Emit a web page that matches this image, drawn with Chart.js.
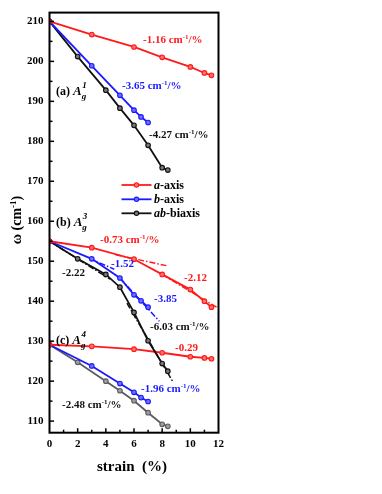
<!DOCTYPE html>
<html><head><meta charset="utf-8">
<script src="https://cdn.jsdelivr.net/npm/chart.js@4.4.0/dist/chart.umd.min.js"></script>
<style>html,body{margin:0;padding:0;background:#fff;}#wrap{width:382px;height:494px;position:relative;}</style>
</head><body><div id="wrap"><canvas id="c"></canvas></div>
<script>
// ---- data ----
const strainA = [0, 3, 6, 8, 10, 11, 11.5];        // a-axis strain points
const strainB = [0, 3, 5, 6, 6.5, 7];              // b-axis strain points
const strainAB = [0, 2, 4, 5, 6, 7, 8, 8.4];       // ab-biaxis strain points

const ag1A  = [210, 206.7, 203.6, 201.0, 198.6, 197.1, 196.5];
const ag1B  = [210, 198.9, 191.5, 187.8, 186.1, 184.7];
const ag1AB = [210, 201.2, 192.8, 188.3, 184.0, 179.0, 173.4, 172.8];

const ag3A  = [155, 153.4, 150.5, 146.7, 142.9, 140.0, 138.5];
const ag3B  = [155, 150.6, 145.8, 141.6, 140.1, 138.5];
const ag3AB = [155, 150.6, 146.7, 143.5, 137.2, 130.1, 124.4, 122.5];

const ag4A  = [129.1, 128.7, 128.0, 127.1, 126.1, 125.8, 125.6];
const ag4B  = [129.1, 123.8, 119.4, 117.2, 115.9, 114.9];
const ag4AB = [129.1, 124.7, 120.0, 117.6, 115.1, 112.1, 109.2, 108.7];

// linear-fit guide segments (dash-dot) : x pair and y pair
const fitX073 = [4.7, 8.3],  fitY073 = [151.6, 148.9];
const fitX212 = [8, 12],     fitY212 = [146.7, 138.2];
const fitX152 = [2.8, 4.6],  fitY152 = [150.7, 148.0];
const fitX385 = [5, 7.8],    fitY385 = [145.8, 135.0];
const fitX603 = [5.5, 8.8],  fitY603 = [139.5, 119.6];
const fitX222 = [0, 4.3],    fitY222 = [155, 145.5];

const xTicks = [0, 2, 4, 6, 8, 10, 12];
const yTicks = [110, 120, 130, 140, 150, 160, 170, 180, 190, 200, 210];

const seriesNames = ['a-axis', 'b-axis', 'ab-biaxis'];

// ---- helpers ----
const RED = '#ff1a1a', BLUE = '#1a1aff', BLACK = '#111111', GRAY = '#5c5c5c';
const SERIF = '"Liberation Serif","DejaVu Serif",serif';
const zip = (xs, ys) => xs.map((x, i) => ({x, y: ys[i]}));
function light(c){ return c === RED ? '#ff7070' : c === BLUE ? '#7070ff' : c === GRAY ? '#a0a0a0' : '#777777'; }
function series(label, xs, ys, color, hideLegend){
  return {label, data: zip(xs, ys), borderColor: color, backgroundColor: light(color),
    pointBackgroundColor: light(color), pointBorderColor: color, pointRadius: 2.3, pointBorderWidth: 1.1,
    borderWidth: 1.8, showLine: true, tension: 0, hideLegend: !!hideLegend};
}
function fit(xs, ys, color){
  return {label: 'fit', data: zip(xs, ys), borderColor: color, borderWidth: 1.5, borderDash: [6, 2, 1.5, 2],
    pointRadius: 0, showLine: true, hideLegend: true};
}

const datasets = [
  series(seriesNames[0], strainA, ag1A, RED),
  series(seriesNames[1], strainB, ag1B, BLUE),
  series(seriesNames[2], strainAB, ag1AB, BLACK),
  series('a3', strainA, ag3A, RED, true),
  series('b3', strainB, ag3B, BLUE, true),
  series('ab3', strainAB, ag3AB, BLACK, true),
  series('a4', strainA, ag4A, RED, true),
  series('b4', strainB, ag4B, BLUE, true),
  series('ab4', strainAB, ag4AB, GRAY, true),
  fit(fitX073, fitY073, RED),
  fit(fitX212, fitY212, RED),
  fit(fitX152, fitY152, BLUE),
  fit(fitX385, fitY385, BLUE),
  fit(fitX603, fitY603, BLACK),
  fit(fitX222, fitY222, BLACK)
];

function rich(ctx, x, y, parts, color, align){
  let w = 0;
  parts.forEach(p => { ctx.font = p.f; w += ctx.measureText(p.t).width; });
  let cx = align === 'center' ? x - w / 2 : x;
  ctx.fillStyle = color; ctx.textBaseline = 'alphabetic'; ctx.textAlign = 'left';
  parts.forEach(p => { ctx.font = p.f; ctx.fillText(p.t, cx, y + (p.dy || 0)); cx += ctx.measureText(p.t).width; });
}
const B11 = 'bold 11px ' + SERIF, B7 = 'bold 7px ' + SERIF;
function slope(txt, unit){
  return unit ? [{t: txt + ' cm', f: B11}, {t: '-1', f: B7, dy: -4}, {t: '/%', f: B11}] : [{t: txt, f: B11}];
}

const decor = {
  id: 'decor',
  afterDatasetsDraw(chart){
    const ctx = chart.ctx, xs = chart.scales.x, ys = chart.scales.y, a = chart.chartArea;
    ctx.save();
    // frame
    ctx.strokeStyle = '#000'; ctx.lineWidth = 2;
    ctx.strokeRect(a.left, a.top, a.right - a.left, a.bottom - a.top);
    // inward ticks
    ctx.lineWidth = 1.5;
    for (let v = 1; v < 12; v++){
      const px = xs.getPixelForValue(v);
      ctx.beginPath(); ctx.moveTo(px, a.bottom); ctx.lineTo(px, a.bottom - (v % 2 ? 3 : 4.5)); ctx.stroke();
    }
    for (let v = 110; v <= 210; v += 5){
      const py = ys.getPixelForValue(v);
      ctx.beginPath(); ctx.moveTo(a.left, py); ctx.lineTo(a.left + (v % 10 ? 3 : 4.5), py); ctx.stroke();
    }
    // slope annotations
    const ann = [
      ['-1.16', true, RED, 143, 43], ['-3.65', true, BLUE, 122, 89], ['-4.27', true, BLACK, 149, 138],
      ['-0.73', true, RED, 100, 243], ['-2.12', false, RED, 184, 281], ['-1.52', false, BLUE, 111, 267],
      ['-2.22', false, BLACK, 62, 276], ['-3.85', false, BLUE, 154, 302], ['-6.03', true, BLACK, 150, 330],
      ['-0.29', false, RED, 175, 351], ['-1.96', true, BLUE, 141, 392], ['-2.48', true, BLACK, 62, 408]
    ];
    ann.forEach(([t, u, c, x, y]) => rich(ctx, x, y, slope(t, u), c));
    // panel labels
    const P = 'bold 12px ' + SERIF, AI = 'italic bold 13px ' + SERIF, SI = 'italic bold 9px ' + SERIF;
    [['(a) ', '1', 95], ['(b) ', '3', 226], ['(c) ', '4', 344]].forEach(([l, s, y]) => {
      ctx.fillStyle = '#000'; ctx.font = P; ctx.textAlign = 'left'; ctx.fillText(l, 56, y);
      let x = 56 + ctx.measureText(l).width;
      ctx.font = AI; ctx.fillText('A', x, y); x += ctx.measureText('A').width;
      ctx.font = SI; ctx.fillText('g', x, y + 4); ctx.fillText(s, x + 0.5, y - 7);
    });
    // legend
    const LI = 'italic bold 12px ' + SERIF, LB = 'bold 12px ' + SERIF;
    const leg = [[RED, 'a', '-axis', 185], [BLUE, 'b', '-axis', 199.3], [BLACK, 'ab', '-biaxis', 213.3]];
    leg.forEach(([c, it, rest, y]) => {
      ctx.strokeStyle = c; ctx.lineWidth = 1.8; ctx.setLineDash([]);
      ctx.beginPath(); ctx.moveTo(121.5, y); ctx.lineTo(151.5, y); ctx.stroke();
      ctx.beginPath(); ctx.arc(136.5, y, 2.2, 0, Math.PI * 2); ctx.fillStyle = light(c); ctx.fill();
      ctx.lineWidth = 1.1; ctx.stroke();
      rich(ctx, 154, y + 4, [{t: it, f: LI}, {t: rest, f: LB}], '#000');
    });
    // axis titles
    rich(ctx, 132, 471, [{t: 'strain  (%)', f: 'bold 15px ' + SERIF}], '#000', 'center');
    ctx.save(); ctx.translate(21, 220); ctx.rotate(-Math.PI / 2);
    rich(ctx, 0, 0, [{t: 'ω (cm', f: 'bold 14px ' + SERIF}, {t: '-1', f: 'bold 9px ' + SERIF, dy: -5}, {t: ')', f: 'bold 14px ' + SERIF}], '#000', 'center');
    ctx.restore();
    ctx.restore();
  }
};

new Chart(document.getElementById('c'), {
  type: 'scatter',
  data: {datasets},
  options: {
    responsive: true, maintainAspectRatio: false, animation: false, devicePixelRatio: 1,
    layout: {padding: {left: 0, top: 7, right: 163.5, bottom: 0}},
    plugins: {legend: {display: false}, tooltip: {enabled: false}},
    scales: {
      x: {type: 'linear', min: 0, max: 12,
        afterBuildTicks: s => { s.ticks = xTicks.map(v => ({value: v})); },
        afterFit: s => { s.height = 61.3; },
        ticks: {color: '#000', font: {family: SERIF, weight: 'bold', size: 11}, padding: 5},
        grid: {display: false, drawTicks: false}, border: {display: false}},
      y: {type: 'linear', min: 107.1, max: 212.2,
        afterBuildTicks: s => { s.ticks = yTicks.map(v => ({value: v})); },
        afterFit: s => { s.width = 49.5; },
        ticks: {color: '#000', font: {family: SERIF, weight: 'bold', size: 11}, padding: 6},
        grid: {display: false, drawTicks: false}, border: {display: false}}
    }
  },
  plugins: [decor]
});
</script></body></html>
